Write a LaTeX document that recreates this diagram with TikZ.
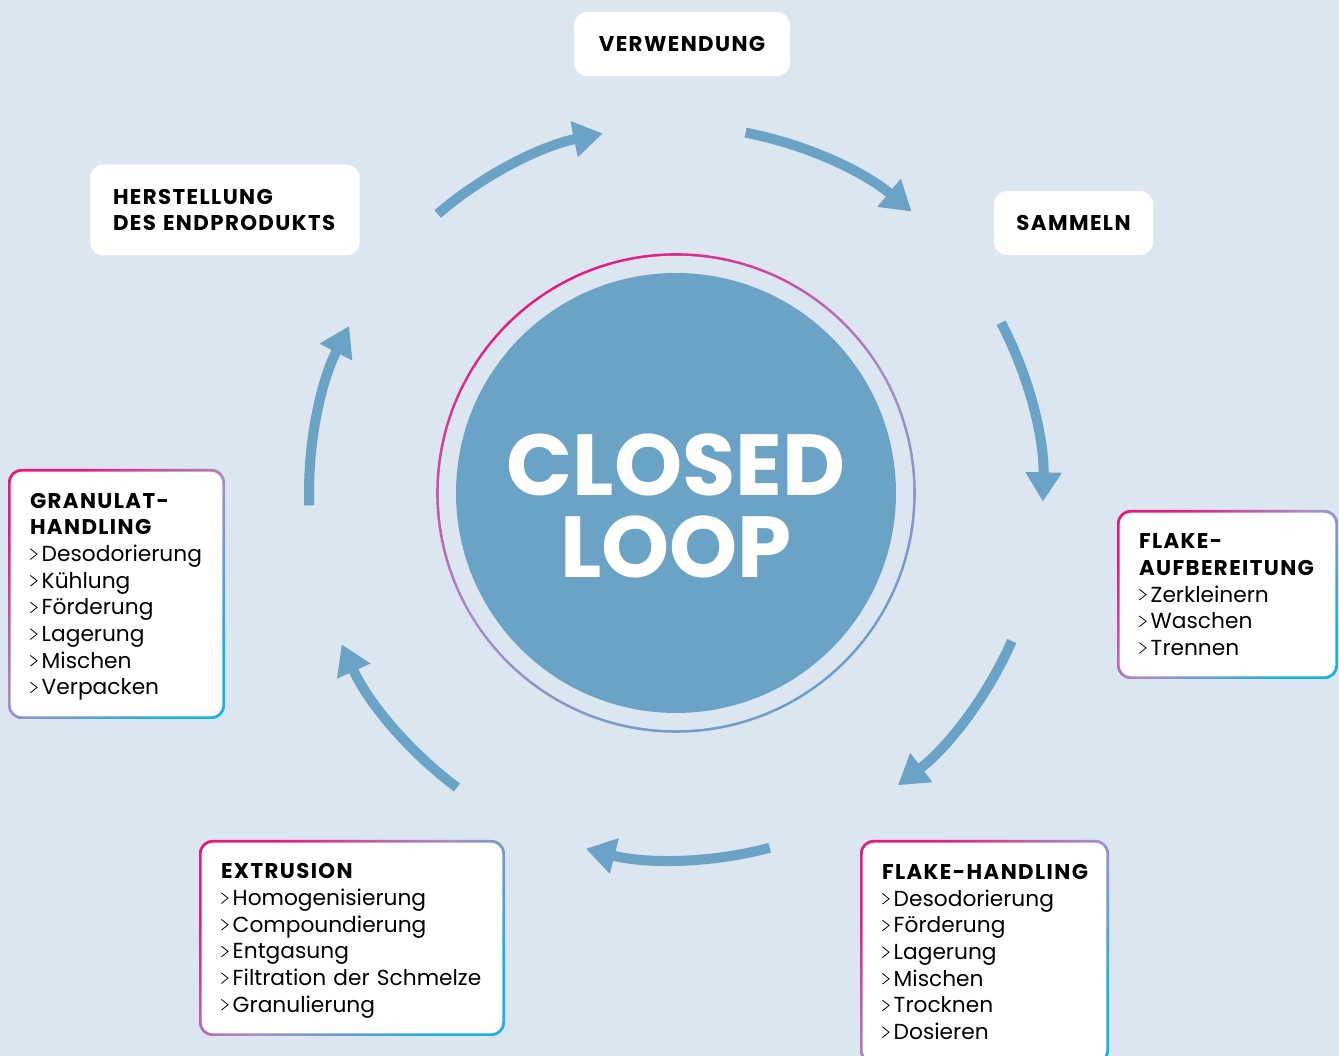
\documentclass[tikz,border=0pt]{standalone}
\usepackage{fontspec}
\setmainfont{Poppins}
\usepackage{xcolor}
\usetikzlibrary{arrows.meta,calc,positioning,shadings}
\definecolor{hgblau}{RGB}{219,230,240}
\definecolor{kreisblau}{RGB}{106,163,197}
\definecolor{randpink}{RGB}{230,25,127}
\definecolor{randlila}{RGB}{168,142,196}
\definecolor{randcyan}{RGB}{26,177,230}
\definecolor{ringblau}{RGB}{108,158,204}
% kleiner Pfeil vor den Listenpunkten
\newcommand{\chev}{\tikz[baseline=0pt,sharp corners]\draw[line width=0.6pt,black,line join=miter] (0pt,1.6pt) -- (5pt,5.6pt) -- (0pt,9.6pt);\hspace{3.2pt}}
\newcommand{\kopf}[1]{{\bfseries\addfontfeatures{LetterSpace=6.5}\fontsize{16}{20}\selectfont #1}}
% gleiche Hoehe oben und unten, damit der Text mittig sitzt
\newcommand{\zeile}{\rule[-5pt]{0pt}{21.4pt}}
\tikzset{
  pfeil/.style={line width=7.5pt, draw=kreisblau, -{Triangle[width=26pt,length=22pt]}},
  weissbox/.style={fill=white, rounded corners=10pt, inner xsep=17pt, inner ysep=0pt,
    font=\fontsize{16}{20}\selectfont},
  karte/.style={rounded corners=10pt, top color=randpink, bottom color=randcyan,
    middle color=randlila, shading angle=45, inner xsep=16.5pt, inner ysep=0pt,
    align=left, font=\fontsize{16.3}{20}\selectfont,
    execute at begin node=\zeile, execute at end node=\zeile,
    path picture={\fill[white,rounded corners=8.5pt]
      ([shift={(2pt,2pt)}]path picture bounding box.south west) rectangle
      ([shift={(-2pt,-2pt)}]path picture bounding box.north east);}},
}
\begin{document}
\begin{tikzpicture}[x=0.75pt,y=0.75pt]
%Pixelmasse: 1339 x 1056, y von unten gezaehlt
  \pgfmathsetmacro{\rPfeil}{367}
  \pgfmathsetmacro{\rRing}{238.5}
  \pgfmathsetmacro{\rKreis}{220}
  \useasboundingbox (0,0) rectangle (1339,1056);
  \clip (0,0) rectangle (1339,1056);
  \fill[hgblau] (0,0) rectangle (1339,1056);
  \coordinate (M) at (676,563);
%Ring mit Farbverlauf und Kreis
  \shade[top color=randpink, bottom color=ringblau, middle color=randlila, shading angle=30]
    (M) circle (\rRing+1.3);
  \fill[hgblau] (M) circle (\rRing-1.3);
  \fill[kreisblau] (M) circle (\rKreis);
  \node[text=white, font=\bfseries\fontsize{65}{61.5}\selectfont, align=center] (titel)
    at (676,550) {CLOSED\\LOOP};
%sieben Pfeile im Kreis, je 360/7 Grad
\foreach \k in {0,...,6}{
  \pgfmathsetmacro{\a}{116-\k*360/7}
  \draw[pfeil] ([shift={(\a+14.5:\rPfeil)}]M) arc[start angle=\a+14.5, end angle=\a-14.5, radius=\rPfeil];
}
%weisse Kaesten oben
  \node[weissbox, minimum width=162pt, minimum height=48pt] (verwendung) at (682,1012) {\kopf{VERWENDUNG}};
  \node[weissbox, minimum width=117.75pt, minimum height=48pt] (sammeln) at (1073.5,833) {\kopf{SAMMELN}};
  \node[weissbox, align=left, text width=168pt, minimum height=68.25pt] (herstellung) at (225,846)
    {\kopf{HERSTELLUNG}\\\kopf{DES ENDPRODUKTS}};
%Kaesten mit Rahmen
  \node[karte, text width=129.75pt, minimum height=187.5pt] (granulat) at (116.5,462)
    {\kopf{GRANULAT-}\\\kopf{HANDLING}\\\chev Desodorierung\\\chev Kühlung\\\chev Förderung\\\chev Lagerung\\\chev Mischen\\\chev Verpacken};
  \node[karte, text width=132.75pt, minimum height=126.75pt] (flakeauf) at (1227.5,461.5)
    {\kopf{FLAKE-}\\\kopf{AUFBEREITUNG}\\\chev Zerkleinern\\\chev Waschen\\\chev Trennen};
  \node[karte, text width=196.5pt, minimum height=147pt] (extrusion) at (352,118)
    {\kopf{EXTRUSION}\\\chev Homogenisierung\\\chev Compoundierung\\\chev Entgasung\\\chev Filtration der Schmelze\\\chev Granulierung};
  \node[karte, text width=153.75pt, minimum height=168pt] (flakehandling) at (984.5,104)
    {\kopf{FLAKE-HANDLING}\\\chev Desodorierung\\\chev Förderung\\\chev Lagerung\\\chev Mischen\\\chev Trocknen\\\chev Dosieren};
\end{tikzpicture}
\end{document}
